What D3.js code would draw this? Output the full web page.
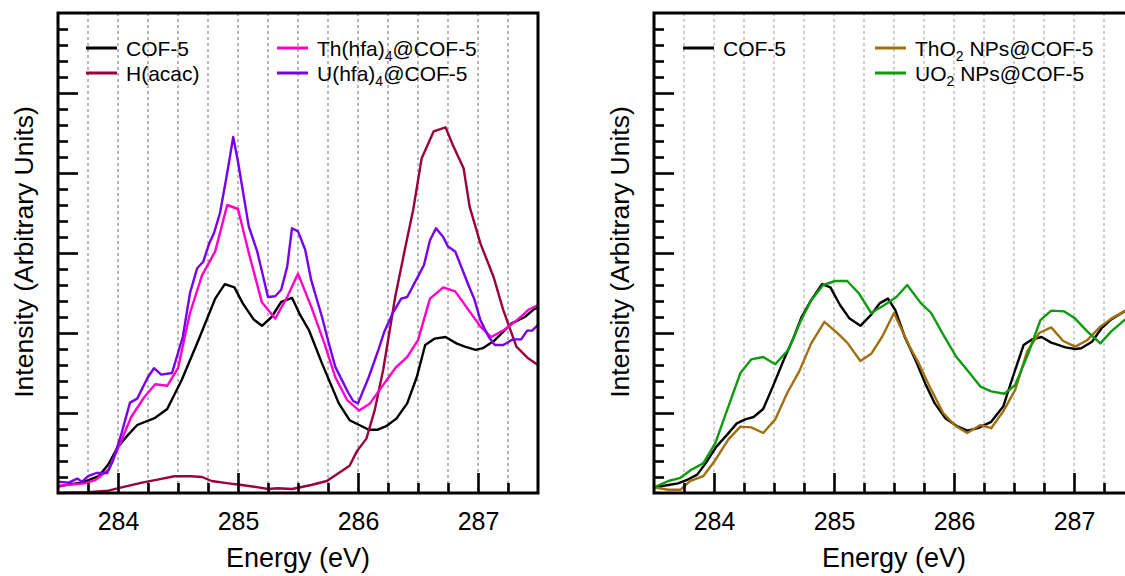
<!DOCTYPE html>
<html>
<head>
<meta charset="utf-8">
<script src="https://cdn.jsdelivr.net/npm/d3@7"></script>
<style>
  html, body { margin: 0; padding: 0; background: #fff; }
  svg { display: block; }
  text { font-family: "Liberation Sans", Arial, Helvetica, sans-serif; fill: #000; }
</style>
</head>
<body>
<svg id="chart" width="1125" height="576"></svg>
<script>
// ---- C 1s NEXAFS spectra, [energy (eV), intensity (arb.)] ----
const energyTicks = [284, 285, 286, 287];
const energyDomain = [283.5, 287.5];
const intensityDomain = [0, 6];

const cof5Left = [[283.5,0.08],[283.6,0.11],[283.7,0.13],[283.84,0.21],[283.92,0.36],[284.0,0.58],[284.08,0.72],[284.16,0.85],[284.31,0.94],[284.41,1.05],[284.53,1.41],[284.67,1.91],[284.81,2.43],[284.89,2.61],[284.97,2.57],[285.04,2.37],[285.13,2.17],[285.2,2.09],[285.28,2.2],[285.36,2.39],[285.45,2.44],[285.52,2.22],[285.59,2.04],[285.7,1.62],[285.84,1.12],[285.93,0.91],[286.09,0.79],[286.16,0.79],[286.24,0.84],[286.32,0.93],[286.41,1.12],[286.49,1.45],[286.56,1.85],[286.64,1.93],[286.73,1.95],[286.82,1.87],[286.89,1.83],[286.98,1.79],[287.04,1.81],[287.14,1.91],[287.28,2.12],[287.39,2.2],[287.46,2.29],[287.5,2.32]];

const hacac = [[283.5,0.0],[283.75,0.01],[283.92,0.03],[284.03,0.07],[284.2,0.13],[284.34,0.17],[284.47,0.21],[284.61,0.21],[284.7,0.2],[284.78,0.15],[284.92,0.12],[285.03,0.1],[285.17,0.07],[285.25,0.05],[285.33,0.06],[285.45,0.05],[285.61,0.1],[285.74,0.15],[285.84,0.25],[285.93,0.34],[285.99,0.52],[286.07,0.68],[286.14,1.04],[286.21,1.54],[286.31,2.45],[286.39,3.04],[286.46,3.54],[286.53,4.18],[286.63,4.52],[286.73,4.57],[286.79,4.35],[286.88,4.06],[286.93,3.58],[287.02,3.12],[287.13,2.7],[287.21,2.29],[287.32,1.83],[287.42,1.68],[287.5,1.6]];

const thHfa = [[283.5,0.09],[283.72,0.12],[283.81,0.16],[283.92,0.29],[284.0,0.56],[284.11,0.95],[284.22,1.2],[284.31,1.36],[284.41,1.34],[284.5,1.56],[284.6,2.25],[284.7,2.72],[284.81,3.02],[284.91,3.6],[285.0,3.55],[285.09,3.0],[285.2,2.38],[285.31,2.18],[285.41,2.45],[285.5,2.74],[285.61,2.33],[285.72,1.87],[285.81,1.45],[285.91,1.16],[286.01,1.03],[286.1,1.12],[286.2,1.33],[286.31,1.56],[286.41,1.7],[286.5,1.91],[286.6,2.43],[286.71,2.57],[286.81,2.52],[286.92,2.29],[287.02,2.08],[287.11,1.95],[287.22,2.04],[287.34,2.18],[287.42,2.29],[287.5,2.35]];

const uHfa = [[283.5,0.14],[283.59,0.13],[283.66,0.18],[283.7,0.14],[283.75,0.21],[283.82,0.25],[283.91,0.25],[283.96,0.41],[284.03,0.75],[284.1,1.13],[284.16,1.18],[284.25,1.45],[284.3,1.56],[284.36,1.48],[284.45,1.5],[284.54,1.95],[284.6,2.5],[284.66,2.81],[284.71,2.89],[284.76,3.12],[284.8,3.25],[284.85,3.5],[284.91,4.0],[284.96,4.45],[285.0,4.14],[285.09,3.33],[285.16,3.02],[285.25,2.45],[285.31,2.46],[285.36,2.54],[285.41,2.83],[285.45,3.31],[285.5,3.27],[285.56,3.04],[285.61,2.66],[285.7,2.2],[285.75,1.91],[285.81,1.58],[285.86,1.43],[285.92,1.25],[285.96,1.15],[286.0,1.12],[286.09,1.45],[286.17,1.79],[286.22,2.02],[286.29,2.25],[286.36,2.43],[286.41,2.45],[286.47,2.62],[286.55,2.85],[286.6,3.16],[286.65,3.31],[286.71,3.2],[286.75,3.08],[286.81,3.02],[286.86,2.83],[286.92,2.6],[286.97,2.42],[287.02,2.16],[287.09,1.95],[287.14,1.85],[287.21,1.85],[287.29,1.92],[287.36,1.92],[287.41,2.03],[287.45,2.03],[287.5,2.1]];

const cof5Right = [[283.5,0.07],[283.62,0.1],[283.7,0.12],[283.77,0.16],[283.86,0.23],[283.93,0.37],[284.02,0.58],[284.11,0.73],[284.19,0.87],[284.26,0.92],[284.33,0.95],[284.41,1.05],[284.49,1.33],[284.58,1.66],[284.66,1.93],[284.73,2.2],[284.81,2.41],[284.9,2.61],[284.97,2.57],[285.05,2.35],[285.13,2.18],[285.22,2.09],[285.31,2.23],[285.38,2.37],[285.45,2.43],[285.51,2.29],[285.59,1.95],[285.68,1.66],[285.76,1.37],[285.84,1.12],[285.93,0.93],[286.02,0.84],[286.11,0.78],[286.2,0.81],[286.31,0.89],[286.41,1.08],[286.49,1.45],[286.58,1.85],[286.65,1.92],[286.73,1.95],[286.81,1.88],[286.93,1.82],[287.01,1.8],[287.06,1.81],[287.15,1.89],[287.23,2.06],[287.31,2.17],[287.42,2.27],[287.5,2.33]];

const tho2 = [[283.5,0.07],[283.62,0.04],[283.72,0.04],[283.8,0.15],[283.91,0.21],[284.01,0.41],[284.12,0.67],[284.22,0.83],[284.31,0.82],[284.41,0.75],[284.51,0.92],[284.61,1.25],[284.71,1.52],[284.81,1.87],[284.92,2.14],[285.02,2.01],[285.11,1.88],[285.22,1.65],[285.31,1.74],[285.4,1.95],[285.5,2.25],[285.63,1.83],[285.7,1.64],[285.79,1.35],[285.91,1.0],[286.01,0.84],[286.11,0.75],[286.22,0.85],[286.31,0.81],[286.41,1.02],[286.51,1.29],[286.61,1.77],[286.71,2.0],[286.81,2.07],[286.91,1.9],[287.01,1.83],[287.11,1.91],[287.22,2.08],[287.31,2.18],[287.42,2.27],[287.5,2.34]];

const uo2 = [[283.5,0.07],[283.62,0.15],[283.72,0.19],[283.81,0.29],[283.91,0.37],[284.01,0.62],[284.11,1.04],[284.22,1.5],[284.31,1.67],[284.41,1.7],[284.51,1.61],[284.62,1.79],[284.72,2.14],[284.81,2.41],[284.91,2.6],[285.01,2.65],[285.11,2.65],[285.21,2.49],[285.31,2.25],[285.42,2.35],[285.52,2.45],[285.61,2.6],[285.72,2.38],[285.81,2.25],[285.91,1.98],[286.02,1.7],[286.12,1.52],[286.22,1.33],[286.31,1.27],[286.42,1.24],[286.51,1.35],[286.62,1.75],[286.72,2.16],[286.81,2.28],[286.92,2.27],[287.01,2.18],[287.11,2.02],[287.22,1.87],[287.31,2.02],[287.42,2.16],[287.5,2.25]];

// Legend labels: even parts are normal text, odd parts are subscripts
const leftSeries = [
  { label: ["COF-5"],                  color: "#000000", data: cof5Left },
  { label: ["H(acac)"],                color: "#99003d", data: hacac },
  { label: ["Th(hfa)", "4", "@COF-5"], color: "#ff00cc", data: thHfa },
  { label: ["U(hfa)", "4", "@COF-5"],  color: "#7700ee", data: uHfa }
];
const rightSeries = [
  { label: ["COF-5"],                    color: "#000000", data: cof5Right },
  { label: ["ThO", "2", " NPs@COF-5"],   color: "#a0700f", data: tho2 },
  { label: ["UO", "2", " NPs@COF-5"],    color: "#0f9a0f", data: uo2 }
];

// ---- layout ----
const svg = d3.select("#chart");
const plotW = 480, plotH = 480, plotTop = 13;

function drawPanel(left, series, legendSlots, gridColor, gridDash) {
  const x = d3.scaleLinear().domain(energyDomain).range([0, plotW]);
  const y = d3.scaleLinear().domain(intensityDomain).range([plotH, 0]);
  const g = svg.append("g").attr("transform", `translate(${left},${plotTop})`);

  // vertical dashed grid every 0.25 eV
  const grid = d3.range(283.75, 287.5, 0.25);
  g.append("g").selectAll("line").data(grid).join("line")
    .attr("x1", d => x(d)).attr("x2", d => x(d))
    .attr("y1", 0).attr("y2", plotH)
    .attr("stroke", gridColor).attr("stroke-width", 1)
    .attr("stroke-dasharray", gridDash);

  // spectra
  const line = d3.line().x(d => x(d[0])).y(d => y(d[1]));
  g.append("g").selectAll("path").data(series).join("path")
    .attr("d", d => line(d.data))
    .attr("fill", "none")
    .attr("stroke", d => d.color)
    .attr("stroke-width", 2.4)
    .attr("stroke-linejoin", "round");

  // axes: inward ticks, major and minor
  const xMinor = grid.filter(v => !energyTicks.includes(v));
  const yMajor = d3.range(1, 6);
  const yMinor = d3.range(0.2, 6, 0.2).filter(v => Math.abs(v - Math.round(v)) > 1e-6);

  const styleAxis = sel => {
    sel.select(".domain").remove();
    sel.selectAll(".tick line").attr("stroke", "#000").attr("stroke-width", 2.6);
    sel.selectAll("text").style("font-size", "25px").attr("fill", "#000");
  };

  g.append("g").attr("transform", `translate(0,${plotH})`)
    .call(d3.axisBottom(x).tickValues(energyTicks).tickSize(-20).tickPadding(19).tickFormat(d3.format("d")))
    .call(styleAxis);
  g.append("g").attr("transform", `translate(0,${plotH})`)
    .call(d3.axisBottom(x).tickValues(xMinor).tickSize(-10).tickFormat(""))
    .call(styleAxis);
  g.append("g")
    .call(d3.axisLeft(y).tickValues(yMajor).tickSize(-20).tickFormat(""))
    .call(styleAxis);
  g.append("g")
    .call(d3.axisLeft(y).tickValues(yMinor).tickSize(-10).tickFormat(""))
    .call(styleAxis);

  // frame
  g.append("rect").attr("x", 0).attr("y", 0).attr("width", plotW).attr("height", plotH)
    .attr("fill", "none").attr("stroke", "#000").attr("stroke-width", 3);

  // axis titles
  g.append("text").attr("x", plotW / 2).attr("y", 554)
    .attr("text-anchor", "middle").style("font-size", "27px").text("Energy (eV)");
  g.append("text")
    .attr("transform", `translate(${-25},${plotH / 2 - 1}) rotate(-90)`)
    .attr("text-anchor", "middle").style("font-size", "26.5px")
    .text("Intensity (Arbitrary Units)");

  // legend
  series.forEach((s, i) => {
    const slot = legendSlots[i];
    const lg = g.append("g").attr("transform", `translate(${slot[0]},${slot[1]})`);
    lg.append("line").attr("x1", 0).attr("x2", 31).attr("y1", 0).attr("y2", 0)
      .attr("stroke", s.color).attr("stroke-width", 3);
    const t = lg.append("text").attr("x", 40).attr("y", 7.5).style("font-size", "21px");
    s.label.forEach((part, k) => {
      const ts = t.append("tspan").text(part);
      if (k % 2 === 1) ts.style("font-size", "14px").attr("dy", 5);
      else if (k > 0) ts.attr("dy", -5);
    });
  });
}

drawPanel(58, leftSeries, [[28, 35], [28, 60], [219, 35], [219, 60]], "#6e6e6e", "3,3");
drawPanel(654, rightSeries, [[29, 35], [221, 35], [221, 60]], "#a0a0a0", "3,3");
</script>
</body>
</html>
